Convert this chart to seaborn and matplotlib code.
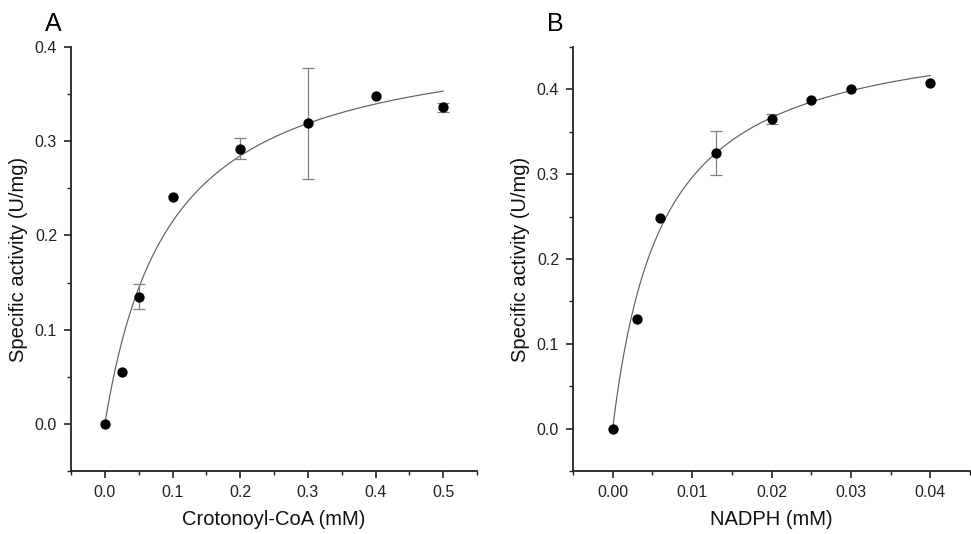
import numpy as np
import pandas as pd
import matplotlib
matplotlib.use("Agg")
import matplotlib.pyplot as plt
import seaborn as sns
from matplotlib.ticker import MultipleLocator

sns.set_theme(style="ticks")
plt.rcParams['font.family'] = ['Liberation Sans', 'DejaVu Sans']

# Panel A data
crot_conc = [0.0, 0.025, 0.05, 0.1, 0.2, 0.3, 0.4, 0.5]
crot_act = [0.0, 0.055, 0.135, 0.241, 0.292, 0.319, 0.348, 0.336]
crot_err = [0.0, 0.0, 0.013, 0.0, 0.011, 0.059, 0.0, 0.005]
crot_vmax, crot_km = 0.421, 0.096

# Panel B data
nadph_conc = [0.0, 0.003, 0.006, 0.013, 0.02, 0.025, 0.03, 0.04]
nadph_act = [0.0, 0.129, 0.248, 0.325, 0.365, 0.387, 0.400, 0.408]
nadph_err = [0.0, 0.0, 0.0, 0.026, 0.006, 0.0, 0.0, 0.0]
nadph_vmax, nadph_km = 0.4816, 0.00626

W, H = 971, 534
fig = plt.figure(figsize=(W / 100, H / 100), dpi=100)
axA = fig.add_axes([71 / W, 1 - 471 / H, (477 - 71) / W, (471 - 47) / H])
axB = fig.add_axes([573 / W, 1 - 471 / H, (970 - 573) / W, (471 - 47) / H])

def draw(ax, x, y, err, vmax, km, xlabel, xlim, ylim, xmaj, xmin, ymaj, ymin, xfmt, letter):
    df = pd.DataFrame({"x": x, "y": y, "e": err})
    xs = np.linspace(x[0], x[-1], 300)
    fit = pd.DataFrame({"x": xs, "y": vmax * xs / (km + xs)})
    sns.lineplot(data=fit, x="x", y="y", ax=ax, color="#606060", linewidth=0.85)
    de = df[df["e"] > 0]
    ax.errorbar(de["x"], de["y"], yerr=de["e"], fmt="none", ecolor="#808080",
                elinewidth=0.9, capsize=4, capthick=0.9, zorder=2)
    sns.scatterplot(data=df, x="x", y="y", ax=ax, color="black", s=55,
                    edgecolor="black", linewidth=0, zorder=3)
    ax.set_xlim(*xlim)
    ax.set_ylim(*ylim)
    ax.xaxis.set_minor_locator(MultipleLocator(xmin))
    ax.yaxis.set_minor_locator(MultipleLocator(ymin))
    ax.set_xticks([t for t in np.arange(0, xlim[1] + 1e-9, xmaj)])
    ax.set_yticks([t for t in np.arange(0, ylim[1] + 1e-9, ymaj)])
    ax.xaxis.set_major_formatter(matplotlib.ticker.FormatStrFormatter(xfmt))
    ax.yaxis.set_major_formatter(matplotlib.ticker.FormatStrFormatter("%.1f"))
    for s in ["top", "right"]:
        ax.spines[s].set_visible(False)
    for s in ["left", "bottom"]:
        ax.spines[s].set_linewidth(1.3)
        ax.spines[s].set_color("#222222")
    ax.tick_params(which="major", direction="out", length=5, width=1.2, labelsize=11.5,
                   colors="#222222", pad=5)
    ax.tick_params(which="minor", direction="out", length=3, width=1.0, colors="#222222")
    ax.set_xlabel(xlabel, fontsize=14.5, labelpad=7, color="#111111")
    ax.set_ylabel("Specific activity (U/mg)", fontsize=14.5, labelpad=5, color="#111111")
    ax.text(-0.065, 1.025, letter, transform=ax.transAxes, fontsize=18, ha="left", va="bottom",
            color="black")

draw(axA, crot_conc, crot_act, crot_err, crot_vmax, crot_km, "Crotonoyl-CoA (mM)",
     (-0.05, 0.55), (-0.05, 0.4), 0.1, 0.05, 0.1, 0.05, "%.1f", "A")
draw(axB, nadph_conc, nadph_act, nadph_err, nadph_vmax, nadph_km, "NADPH (mM)",
     (-0.005, 0.045), (-0.05, 0.45), 0.01, 0.005, 0.1, 0.05, "%.2f", "B")

fig.savefig("out.png", dpi=100)
